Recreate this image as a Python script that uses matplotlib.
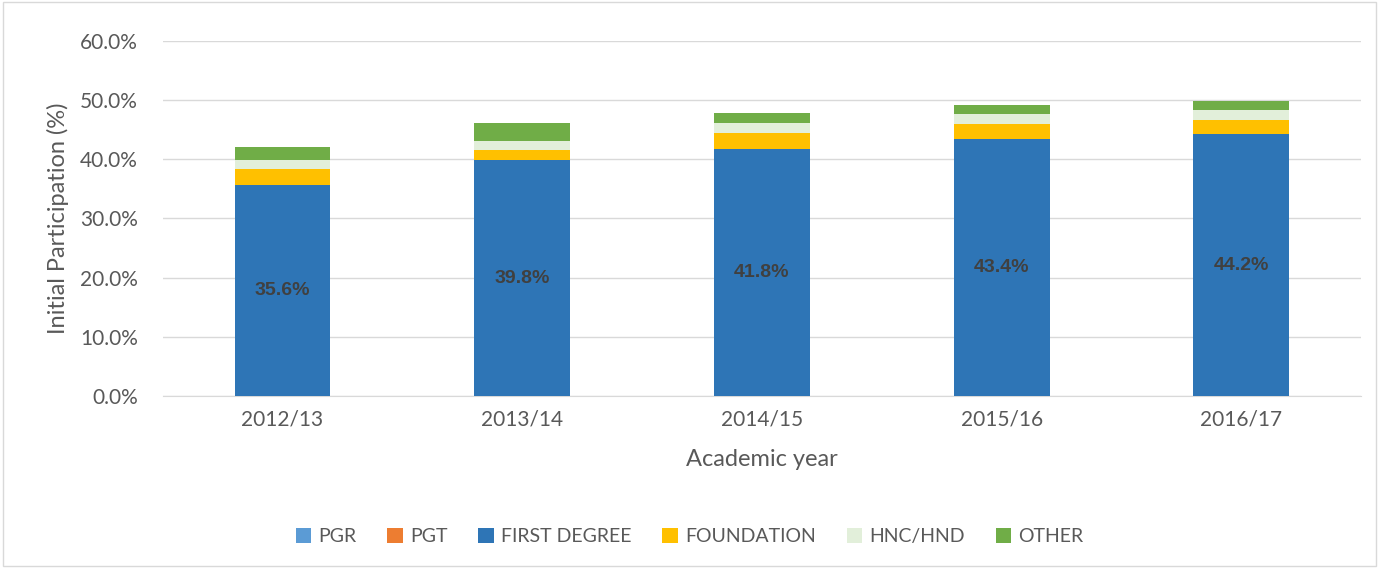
import matplotlib.pyplot as plt
import numpy as np

plt.rcParams['font.family'] = ['Lato', 'DejaVu Sans']

# Values (percent)
years = ['2012/13', '2013/14', '2014/15', '2015/16', '2016/17']
pgr = [0.0, 0.0, 0.0, 0.0, 0.0]
pgt = [0.0, 0.0, 0.0, 0.0, 0.0]
first_degree = [35.6, 39.8, 41.8, 43.4, 44.2]
foundation = [2.8, 1.7, 2.7, 2.5, 2.4]
hnc_hnd = [1.4, 1.5, 1.7, 1.8, 1.7]
other = [2.3, 3.1, 1.6, 1.5, 1.6]

series = [
    ('PGR', pgr, '#5B9BD5'),
    ('PGT', pgt, '#ED7D31'),
    ('FIRST DEGREE', first_degree, '#2E75B6'),
    ('FOUNDATION', foundation, '#FFC000'),
    ('HNC/HND', hnc_hnd, '#E2EFDA'),
    ('OTHER', other, '#70AD47'),
]

fig = plt.figure(figsize=(13.79, 5.68), dpi=100)
ax = fig.add_axes([0.118, 0.303, 0.869, 0.625])

x = np.arange(len(years))
bottom = np.zeros(len(years))
for name, vals, col in series:
    vals = np.array(vals)
    ax.bar(x, vals, 0.4, bottom=bottom, color=col, label=name, zorder=3)
    bottom += vals

# labels on first degree segment
for xi, v in zip(x, first_degree):
    ax.text(xi, v / 2, f'{v:.1f}%', ha='center', va='center',
            fontsize=14, fontweight='bold', color='#404040', zorder=4,
            family=['Liberation Sans', 'DejaVu Sans'])

ax.set_xlim(-0.5, len(years) - 0.5)
ax.set_ylim(0, 60)
ax.set_yticks(np.arange(0, 61, 10))
ax.set_yticklabels([f'{t:.1f}%' for t in np.arange(0, 61, 10)])
ax.set_xticks(x)
ax.set_xticklabels(years)
ax.tick_params(axis='both', length=0, labelsize=15, colors='#595959')
ax.tick_params(axis='x', pad=10)
ax.tick_params(axis='y', pad=18)
ax.grid(axis='y', color='#D9D9D9', linewidth=1, zorder=0)
for s in ['top', 'right', 'left']:
    ax.spines[s].set_visible(False)
ax.spines['bottom'].set_color('#D9D9D9')

ax.set_xlabel('Academic year', fontsize=17, color='#595959', labelpad=14)
ax.set_ylabel('Initial Participation (%)', fontsize=17, color='#595959', labelpad=8)

leg = fig.legend(loc='center', bbox_to_anchor=(0.5, 0.055), ncol=6, frameon=False,
                 fontsize=14, handlelength=0.8, handleheight=0.8, columnspacing=1.6,
                 handletextpad=0.35)
for t in leg.get_texts():
    t.set_color('#595959')

# light border around the chart area
fig.patches.append(plt.Rectangle((0.002, 0.003), 0.996, 0.994, transform=fig.transFigure,
                                 fill=False, edgecolor='#D9D9D9', linewidth=1))

fig.savefig('out.png', dpi=100)
